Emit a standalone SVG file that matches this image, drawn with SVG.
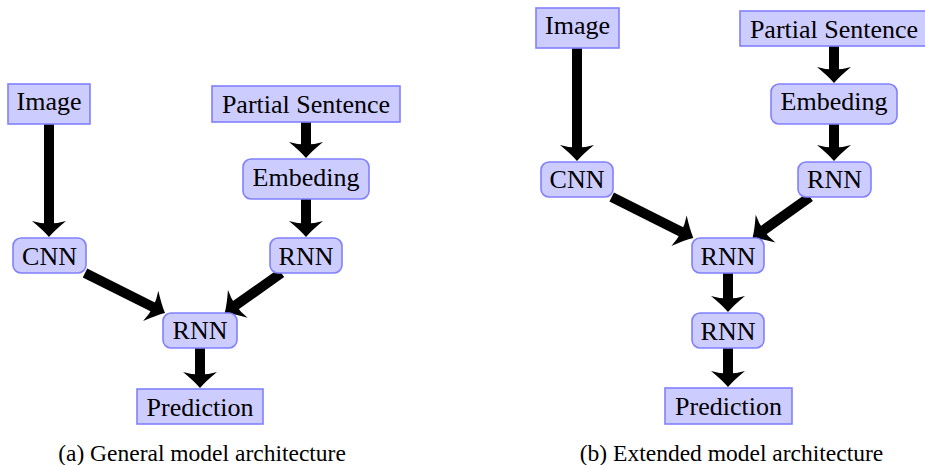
<svg xmlns="http://www.w3.org/2000/svg" width="925" height="465" viewBox="0 0 925 465">
<defs>
<style>
.box{fill:#ccccff;stroke:#8080ff;stroke-width:1.6}
.lbl{font-size:26px;fill:#000;text-anchor:middle}
.cap{font-size:23.5px;fill:#000;text-anchor:middle}
.arr{stroke:#000;stroke-width:10;fill:none;marker-end:url(#head)}
</style>
<marker id="head" markerUnits="userSpaceOnUse" markerWidth="40" markerHeight="40" refX="5" refY="0" orient="auto" viewBox="-2 -20 22 40" overflow="visible">
<path d="M16,0 Q9,-6 0,-17 Q5,0 0,17 Q9,6 16,0 Z" fill="#000"/>
</marker>
</defs>
<rect width="925" height="465" fill="#fff"/>
<g id="connectors">
<line class="arr" x1="49" y1="124" x2="49" y2="226"/>
<line class="arr" x1="306" y1="122" x2="306" y2="147"/>
<line class="arr" x1="306" y1="199" x2="306" y2="226"/>
<line class="arr" x1="85" y1="273" x2="155.2" y2="308.1"/>
<line class="arr" x1="281.3" y1="273" x2="233.7" y2="306.7"/>
<line class="arr" x1="200" y1="348" x2="200" y2="377"/>
<line class="arr" x1="577" y1="48" x2="577" y2="150"/>
<line class="arr" x1="834" y1="46" x2="834" y2="72"/>
<line class="arr" x1="834" y1="124" x2="834" y2="150"/>
<line class="arr" x1="611.7" y1="197" x2="683.5" y2="233"/>
<line class="arr" x1="810" y1="197" x2="761.5" y2="231.6"/>
<line class="arr" x1="728" y1="273" x2="728" y2="301"/>
<line class="arr" x1="728" y1="347" x2="728" y2="376"/>
</g>
<g font-family="'Liberation Serif', 'DejaVu Serif', serif">
<g id="a-image"><rect class="box" x="8" y="84" width="82" height="40"/><text class="lbl" x="49" y="109.5">Image</text></g>
<g id="a-partial"><rect class="box" x="212" y="86" width="188" height="36"/><text class="lbl" x="306" y="112.5">Partial Sentence</text></g>
<g id="a-embed"><rect class="box" x="243" y="159" width="126" height="40" rx="8"/><text class="lbl" x="306" y="186">Embeding</text></g>
<g id="a-cnn"><rect class="box" x="13" y="238" width="73" height="35" rx="8"/><text class="lbl" x="49.5" y="264.5">CNN</text></g>
<g id="a-rnn1"><rect class="box" x="270" y="238" width="72" height="35" rx="8"/><text class="lbl" x="306" y="264.5">RNN</text></g>
<g id="a-rnn2"><rect class="box" x="163" y="313" width="74" height="35" rx="8"/><text class="lbl" x="200" y="339">RNN</text></g>
<g id="a-pred"><rect class="box" x="137" y="389" width="126" height="35"/><text class="lbl" x="200" y="415.5">Prediction</text></g>
<g id="b-image"><rect class="box" x="536" y="8" width="83" height="40"/><text class="lbl" x="577.5" y="34">Image</text></g>
<g id="b-partial"><rect class="box" x="740" y="11" width="188" height="35"/><text class="lbl" x="834" y="37.5">Partial Sentence</text></g>
<g id="b-embed"><rect class="box" x="771" y="84" width="126" height="40" rx="8"/><text class="lbl" x="834" y="110">Embeding</text></g>
<g id="b-cnn"><rect class="box" x="541" y="162" width="72" height="35" rx="8"/><text class="lbl" x="577" y="188.3">CNN</text></g>
<g id="b-rnn1"><rect class="box" x="798" y="162" width="73" height="35" rx="8"/><text class="lbl" x="834.5" y="188.3">RNN</text></g>
<g id="b-rnn2"><rect class="box" x="692" y="238" width="72" height="35" rx="8"/><text class="lbl" x="728" y="264.5">RNN</text></g>
<g id="b-rnn3"><rect class="box" x="692" y="313" width="72" height="35" rx="8"/><text class="lbl" x="728" y="339.5">RNN</text></g>
<g id="b-pred"><rect class="box" x="665" y="388" width="127" height="36"/><text class="lbl" x="728.5" y="415">Prediction</text></g>
<g id="captions">
<text class="cap" x="202" y="461">(a) General model architecture</text>
<text class="cap" x="731.5" y="461">(b) Extended model architecture</text>
</g>
</g>
</svg>
